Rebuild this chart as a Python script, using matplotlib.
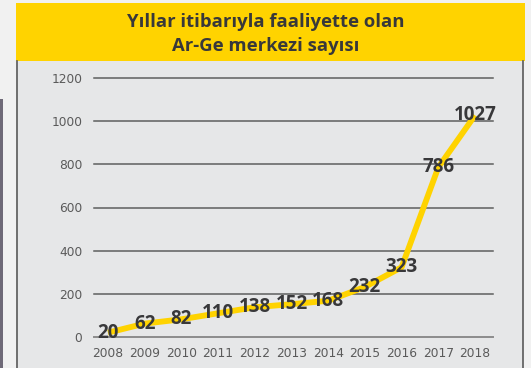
import matplotlib.pyplot as plt
from matplotlib.patches import Rectangle

# Ar-Ge merkezi sayısı, 2008-2018
years = [2008, 2009, 2010, 2011, 2012, 2013, 2014, 2015, 2016, 2017, 2018]
centers = [20, 62, 82, 110, 138, 152, 168, 232, 323, 786, 1027]
y_ticks = [0, 200, 400, 600, 800, 1000, 1200]
title_lines = ["Yıllar itibarıyla faaliyette olan", "Ar-Ge merkezi sayısı"]

YELLOW = "#ffd300"
PANEL = "#e6e7e8"
DARK = "#38383a"

W, H = 531, 368
fig = plt.figure(figsize=(W / 100, H / 100), dpi=100)
fig.patch.set_facecolor("#f1f1f1")

# panel background, borders and title band (pixel coordinates -> figure fraction)
def px(x0, y0, x1, y1):
    return (x0 / W, 1 - y1 / H), (x1 - x0) / W, (y1 - y0) / H

xy, w, h = px(16, 61, 523, 368)
fig.patches.append(Rectangle(xy, w, h, transform=fig.transFigure, facecolor=PANEL, edgecolor="none", zorder=0))
xy, w, h = px(16, 3, 525, 61)
fig.patches.append(Rectangle(xy, w, h, transform=fig.transFigure, facecolor=YELLOW, edgecolor="none", zorder=1))
xy, w, h = px(0, 99, 3, 368)
fig.patches.append(Rectangle(xy, w, h, transform=fig.transFigure, facecolor="#6f6a78", edgecolor="none", zorder=1))
for x in (16.5, 523):
    fig.add_artist(plt.Line2D([x / W, x / W], [0, 1 - 61 / H], transform=fig.transFigure, color="#5a5a5a", lw=1.2))

fig.text(266 / W, 1 - 22 / H, title_lines[0], ha="center", va="center", fontsize=13.3,
         fontweight="bold", family="Open Sans", color=DARK)
fig.text(266 / W, 1 - 46 / H, title_lines[1], ha="center", va="center", fontsize=13.3,
         fontweight="bold", family="Open Sans", color=DARK)

# chart area
ax = fig.add_axes([94 / W, 1 - 337 / H, (493 - 94) / W, (337 - 78) / H])
ax.set_zorder(5)
ax.set_facecolor("none")
ax.set_xlim(2007.62, 2018.49)
ax.set_ylim(0, 1200)

for v in y_ticks:
    ax.axhline(v, color="#8c8c8c" if v == 0 else "#5e5e5e", lw=1.4 if v == 0 else 1.1, zorder=1, clip_on=False)

ax.plot(years, centers, color=YELLOW, lw=4.2, solid_joinstyle="round", solid_capstyle="butt",
        zorder=2, clip_on=False)

for x, v in zip(years, centers):
    ax.text(x, v, str(v), ha="center", va="center", fontsize=13.5, fontweight="bold",
            family="Open Sans", color=DARK, zorder=3)

for s in ax.spines.values():
    s.set_visible(False)
ax.set_yticks(y_ticks)
ax.set_xticks(years)
ax.tick_params(length=0, labelsize=8.8, labelcolor="#5a5a5a")
ax.tick_params(axis="y", pad=8.5)
ax.tick_params(axis="x", pad=7)

fig.savefig("out.png", dpi=100, facecolor=fig.get_facecolor())
